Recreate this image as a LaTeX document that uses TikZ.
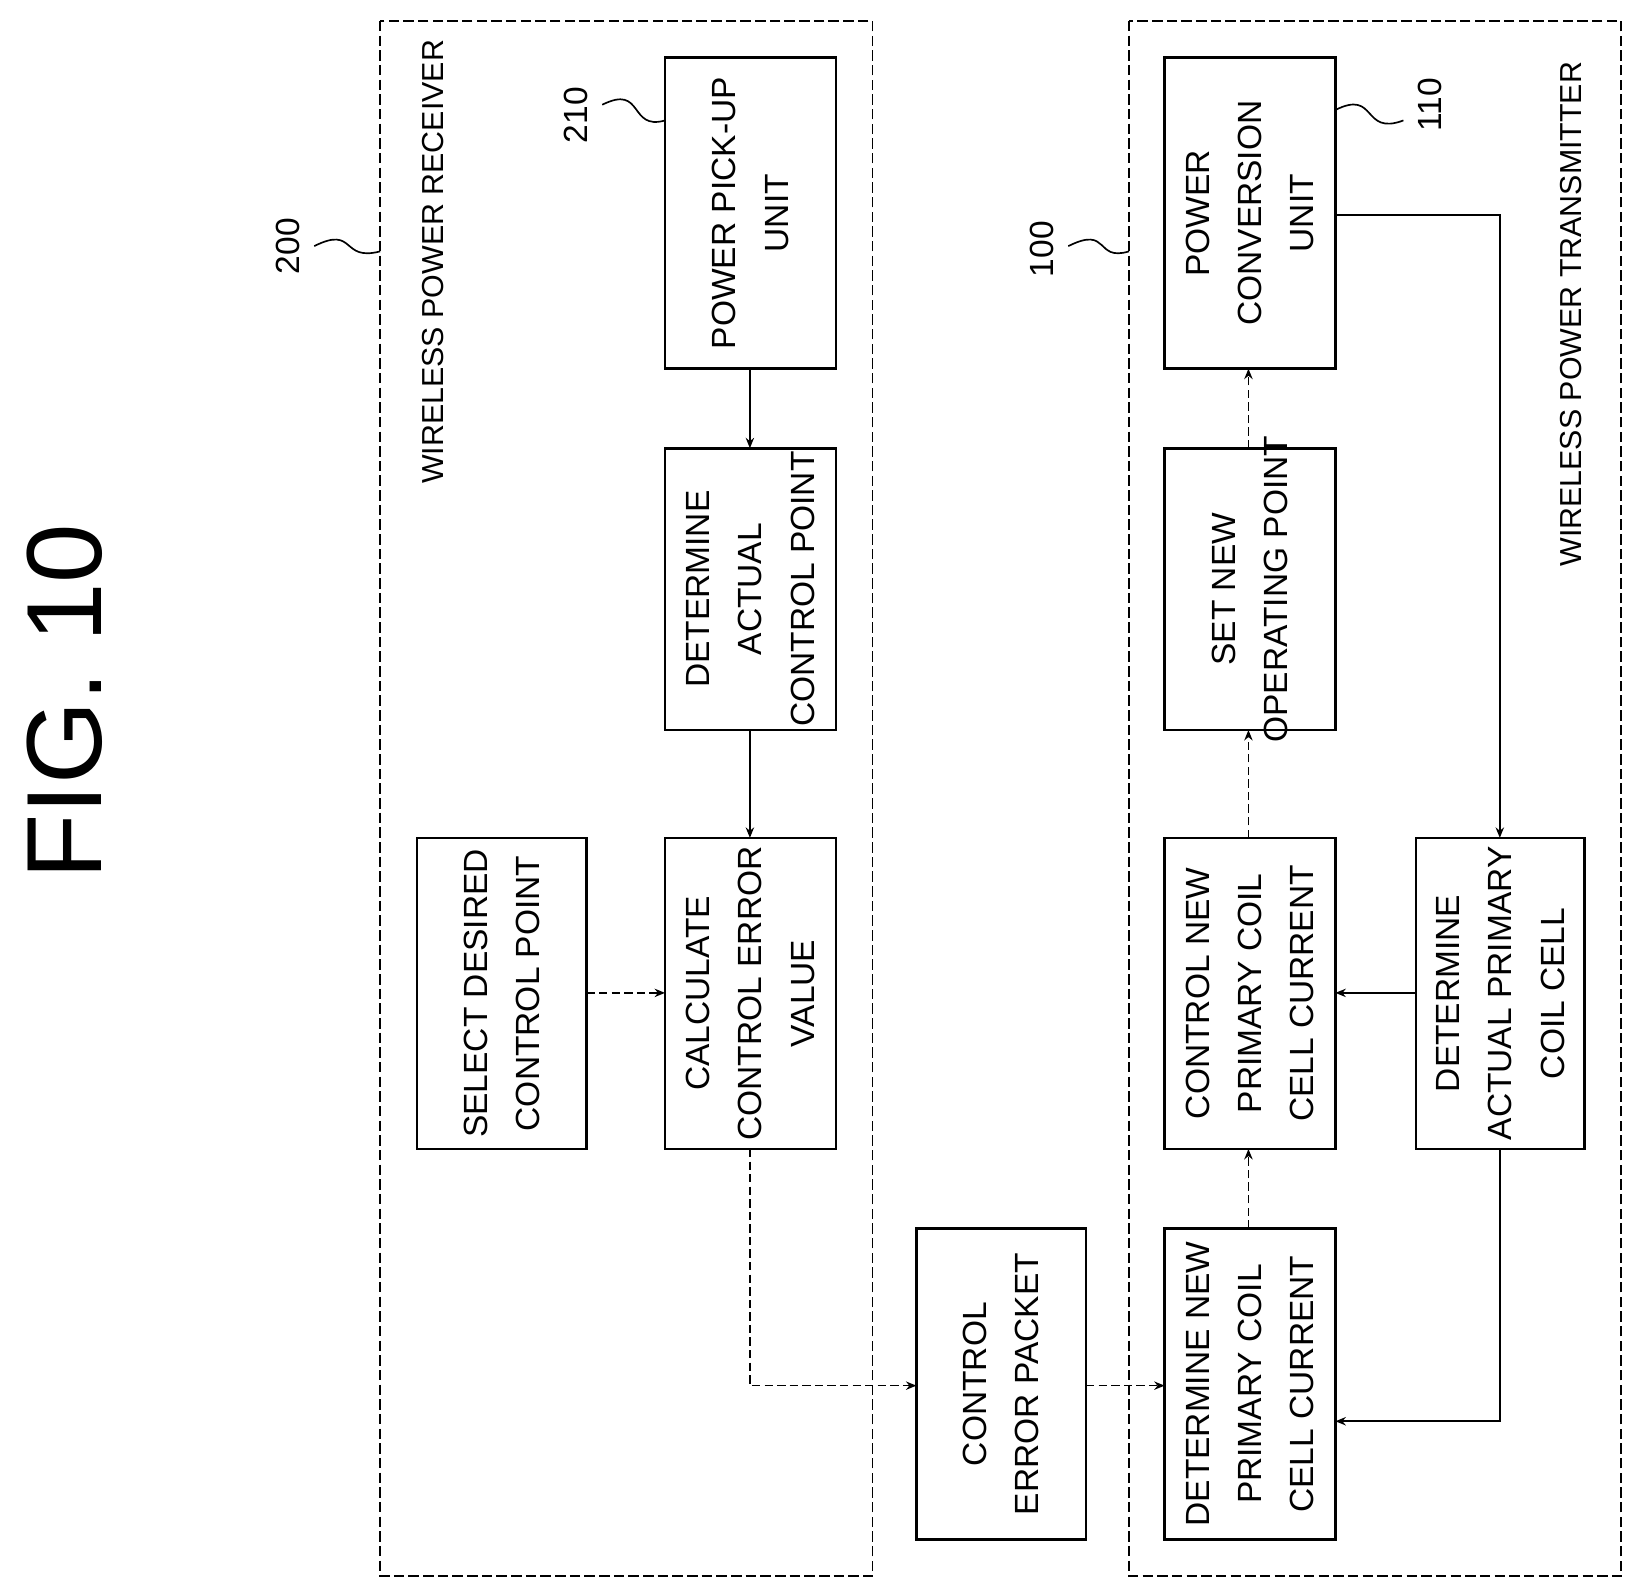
\documentclass[tikz,border=0pt]{standalone}
\usepackage{fontspec}
\setmainfont{Liberation Sans}
\usetikzlibrary{arrows.meta,calc}
\begin{document}
\begin{tikzpicture}[x=0.5pt,y=-0.5pt,
  box/.style={draw,line width=1.2pt},
  lbl/.style={rotate=90,align=center,font=\fontsize{16}{25}\selectfont},
  frame/.style={draw,line width=0.9pt,dash pattern=on 5pt off 2pt},
  arr/.style={draw,line width=0.8pt,-{Stealth[length=5pt,width=4pt,open]}},
  darr/.style={arr,dash pattern=on 4pt off 2pt},
  num/.style={rotate=90,font=\fontsize{16}{16}\selectfont},
  sq/.style={draw,line width=0.8pt}]
\useasboundingbox (0,0) rectangle (1563,1520);
\path[frame] (363,20) rectangle (833,1505);
\path[frame] (1078,20) rectangle (1548,1505);
\node[lbl,font=\fontsize{51}{51}\selectfont] (fig) at (62,670) {FIG. 10};
\node[lbl,font=\fontsize{14.5}{18}\selectfont] (wpr) at (413,250) {WIRELESS POWER RECEIVER};
\node[lbl,font=\fontsize{14.5}{18}\selectfont] (wpt) at (1500,300) {WIRELESS POWER TRANSMITTER};
% boxes
\path[box] (635,55) rectangle node[lbl] (pu) {POWER PICK-UP\\UNIT} (798,352);
\path[box] (635,428) rectangle node[lbl] (dac) {DETERMINE\\ACTUAL\\CONTROL POINT} (798,697);
\path[box] (635,800) rectangle node[lbl] (cce) {CALCULATE\\CONTROL ERROR\\VALUE} (798,1097);
\path[box] (398,800) rectangle node[lbl] (sdc) {SELECT DESIRED\\CONTROL POINT} (560,1097);
\path[box] (875,1173) rectangle node[lbl] (cep) {CONTROL\\ERROR PACKET} (1037,1470);
\path[box] (1112,55) rectangle node[lbl] (pcu) {POWER\\CONVERSION\\UNIT} (1275,352);
\path[box] (1112,428) rectangle node[lbl] (snp) {SET NEW\\OPERATING POINT} (1275,697);
\path[box] (1112,800) rectangle node[lbl] (cnp) {CONTROL NEW\\PRIMARY COIL\\CELL CURRENT} (1275,1097);
\path[box] (1112,1173) rectangle node[lbl] (dnp) {DETERMINE NEW\\PRIMARY COIL\\CELL CURRENT} (1275,1470);
\path[box] (1352,800) rectangle node[lbl] (dap) {DETERMINE\\ACTUAL PRIMARY\\COIL CELL} (1513,1097);
% connector anchors
\coordinate (a1) at (716,352); \coordinate (a2) at (716,428);
\coordinate (b1) at (716,697); \coordinate (b2) at (716,800);
\coordinate (c1) at (560,948); \coordinate (c2) at (635,948);
\coordinate (d1) at (716,1097); \coordinate (d2) at (875,1323);
\coordinate (e1) at (1037,1323); \coordinate (e2) at (1112,1323);
\coordinate (f1) at (1192,1173); \coordinate (f2) at (1192,1097);
\coordinate (g1) at (1192,800); \coordinate (g2) at (1192,697);
\coordinate (h1) at (1192,428); \coordinate (h2) at (1192,352);
\coordinate (i1) at (1275,205); \coordinate (i2) at (1432,800);
\coordinate (j1) at (1352,948); \coordinate (j2) at (1275,948);
\coordinate (k1) at (1432,1097); \coordinate (k2) at (1275,1357);
\path[arr] (a1) -- (a2);
\path[arr] (b1) -- (b2);
\path[darr] (c1) -- (c2);
\path[darr] (d1) |- (d2);
\path[darr] (e1) -- (e2);
\path[darr] (f1) -- (f2);
\path[darr] (g1) -- (g2);
\path[darr] (h1) -- (h2);
\path[arr] (i1) -| (i2);
\path[arr] (j1) -- (j2);
\path[arr] (k1) |- (k2);
% reference numerals
\node[num] (n200) at (275,235) {200};
\node[num] (n210) at (550,110) {210};
\node[num] (n100) at (995,238) {100};
\node[num] (n110) at (1365,100) {110};
\coordinate (t200) at (300,235); \coordinate (s200) at (363,240);
\coordinate (t210) at (575,100); \coordinate (s210) at (635,115);
\coordinate (t100) at (1020,235); \coordinate (s100) at (1078,240);
\coordinate (s110) at (1275,105); \coordinate (t110) at (1340,115);
\path[sq] (t200) .. controls (340,215) and (325,250) .. (s200);
\path[sq] (t210) .. controls (615,80) and (600,125) .. (s210);
\path[sq] (t100) .. controls (1060,215) and (1045,250) .. (s100);
\path[sq] (s110) .. controls (1315,85) and (1300,130) .. (t110);
\end{tikzpicture}
\end{document}
